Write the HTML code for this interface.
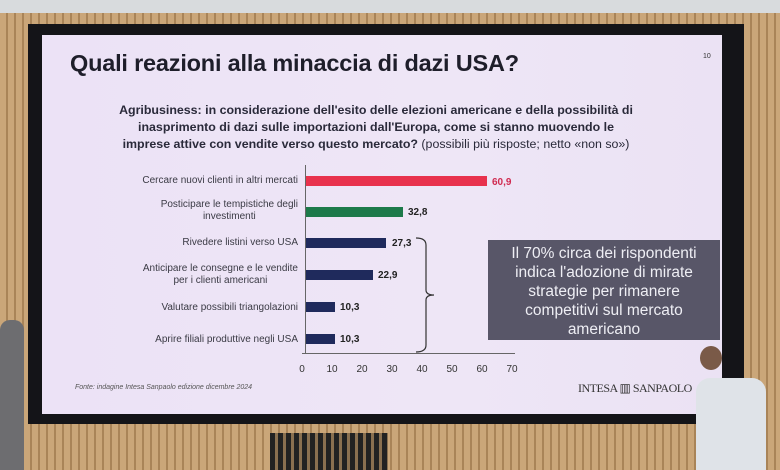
<!DOCTYPE html>
<html><head><meta charset="utf-8"><style>
body{margin:0;width:780px;height:470px;overflow:hidden;position:relative;background:#c49f72;font-family:"Liberation Sans",sans-serif}
.abs{position:absolute}
.wood{background:repeating-linear-gradient(90deg,#caa679 0 6px,#a98458 6px 8px)}
.lbl{position:absolute;right:482px;text-align:center;font-size:10px;color:#3a3a44;line-height:12px;white-space:nowrap}
.bar{position:absolute;left:306px;height:10px;background:#1f2a5c}
.val{position:absolute;font-size:10px;font-weight:bold;color:#222}
.tick{position:absolute;top:364px;font-size:10px;color:#333;width:20px;text-align:center}
</style></head><body>
<div class="abs wood" style="left:0;top:0;width:780px;height:470px"></div>
<div class="abs" style="left:0;top:0;width:780px;height:13px;background:#d8dbdd"></div>
<div class="abs" style="left:28px;top:24px;width:716px;height:400px;background:#141418"></div>
<div class="abs" style="left:42px;top:35px;width:680px;height:379px;background:linear-gradient(90deg,#ece2f6,#eee6f6 60%,#ebe2f4)"></div>
<div class="abs" style="left:70px;top:50px;font-size:23.5px;color:#1e1e2a;font-weight:bold;letter-spacing:-0.2px">Quali reazioni alla minaccia di dazi USA?</div>
<div class="abs" style="left:703px;top:53px;font-size:7px;color:#333">10</div>
<div class="abs" style="left:98px;top:102px;width:556px;text-align:center;font-size:12.4px;line-height:17px;font-weight:bold;color:#2a2a3a">Agribusiness: in considerazione dell'esito delle elezioni americane e della possibilità di<br>inasprimento di dazi sulle importazioni dall'Europa, come si stanno muovendo le<br>imprese attive con vendite verso questo mercato? <span style="font-weight:normal">(possibili più risposte; netto «non so»)</span></div>
<div class="abs" style="left:305px;top:165px;width:1px;height:189px;background:#666"></div>
<div class="abs" style="left:302px;top:353px;width:213px;height:1px;background:#666"></div>
<div class="lbl" style="top:175px">Cercare nuovi clienti in altri mercati</div>
<div class="lbl" style="top:199px">Posticipare le tempistiche degli<br>investimenti</div>
<div class="lbl" style="top:237px">Rivedere listini verso USA</div>
<div class="lbl" style="top:263px">Anticipare le consegne e le vendite<br>per i clienti americani</div>
<div class="lbl" style="top:302px">Valutare possibili triangolazioni</div>
<div class="lbl" style="top:334px">Aprire filiali produttive negli USA</div>
<div class="bar" style="top:176px;width:181px;background:#e8324d"></div>
<div class="val" style="left:492px;top:177px;color:#d02a50">60,9</div>
<div class="bar" style="top:207px;width:97px;background:#1d7a4a"></div>
<div class="val" style="left:408px;top:207px">32,8</div>
<div class="bar" style="top:238px;width:80px"></div>
<div class="val" style="left:392px;top:238px">27,3</div>
<div class="bar" style="top:270px;width:67px"></div>
<div class="val" style="left:378px;top:270px">22,9</div>
<div class="bar" style="top:302px;width:29px"></div>
<div class="val" style="left:340px;top:302px">10,3</div>
<div class="bar" style="top:334px;width:29px"></div>
<div class="val" style="left:340px;top:334px">10,3</div>
<svg class="abs" style="left:410px;top:235px" width="40" height="122"><path d="M6 3 Q16 3 16 10 L16 55 Q16 60 24 60 Q16 60 16 65 L16 110 Q16 117 6 117" fill="none" stroke="#333" stroke-width="1.2"/></svg>
<div class="tick" style="left:292px">0</div><div class="tick" style="left:322px">10</div><div class="tick" style="left:352px">20</div><div class="tick" style="left:382px">30</div><div class="tick" style="left:412px">40</div><div class="tick" style="left:442px">50</div><div class="tick" style="left:472px">60</div><div class="tick" style="left:502px">70</div>
<div class="abs" style="left:488px;top:240px;width:232px;height:100px;background:#585668;color:#eeeef4;font-size:15.5px;line-height:19px;text-align:center;padding-top:4px;box-sizing:border-box">Il 70% circa dei rispondenti<br>indica l'adozione di mirate<br>strategie per rimanere<br>competitivi sul mercato<br>americano</div>
<div class="abs" style="left:75px;top:384px;font-size:7px;font-style:italic;color:#555">Fonte: indagine Intesa Sanpaolo edizione dicembre 2024</div>
<div class="abs" style="left:578px;top:381px;font-size:12px;font-family:'Liberation Serif',serif;color:#333;letter-spacing:-0.5px">INTESA ▥ SANPAOLO</div>
<div class="abs" style="left:270px;top:433px;width:118px;height:37px;background:repeating-linear-gradient(90deg,#222 0 5px,#8a7050 5px 8px)"></div>
<div class="abs" style="left:0;top:320px;width:24px;height:150px;background:#6d6d70;border-radius:10px 10px 0 0"></div>
<div class="abs" style="left:700px;top:346px;width:22px;height:24px;background:#7a5a48;border-radius:50%"></div>
<div class="abs" style="left:696px;top:378px;width:70px;height:92px;background:#dfe3e8;border-radius:14px 14px 0 0"></div>
</body></html>
